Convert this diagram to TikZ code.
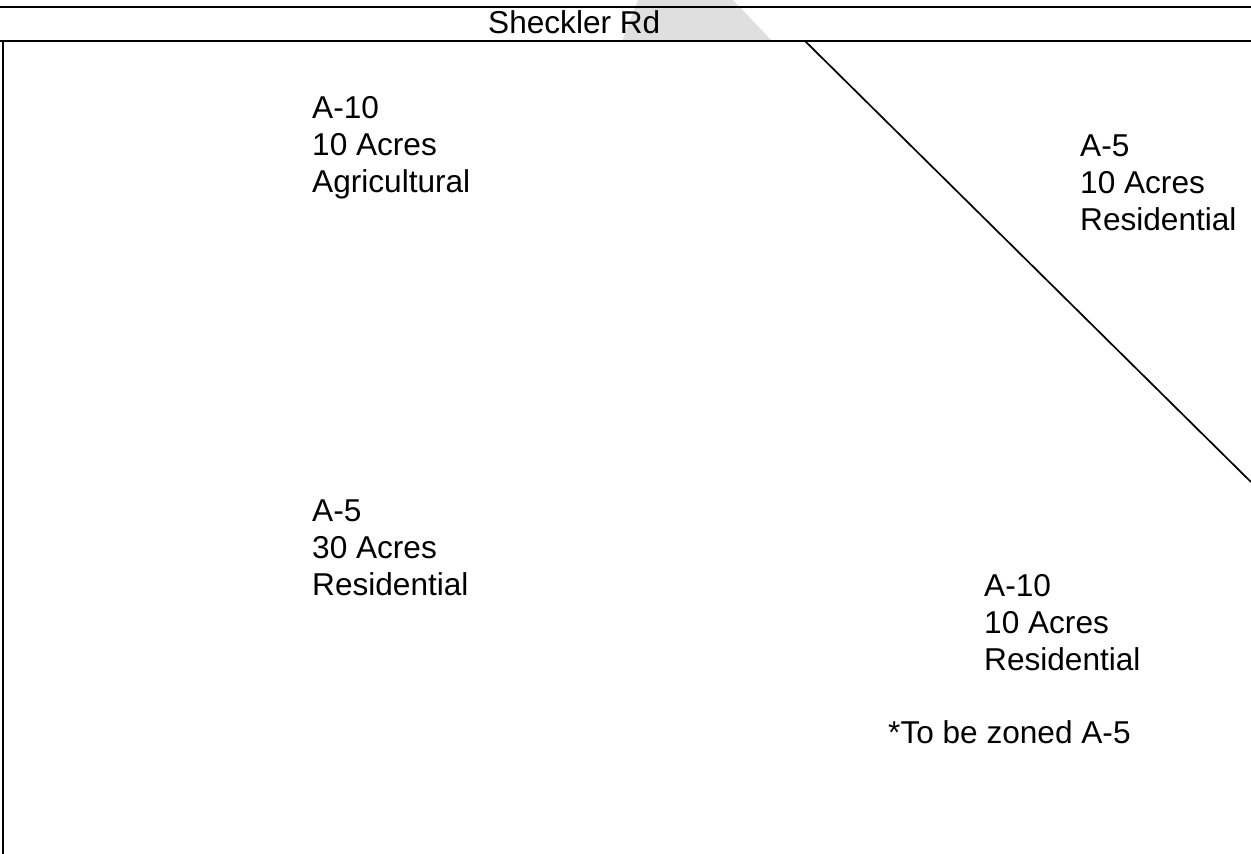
\documentclass[tikz,border=0pt]{standalone}
\usepackage{fontspec}
\setmainfont{Liberation Sans}
\usepackage{tikz}
\usetikzlibrary{positioning,calc}

\begin{document}
\begin{tikzpicture}[x=1pt, y=-1pt,
 road/.style={line width=2pt},
 bnd/.style={line width=1.7pt},
 zone/.style={font=\fontsize{31.6}{36.8}\selectfont, align=left, inner sep=0pt, anchor=base west}]
\useasboundingbox (0,0) rectangle (1251,854);
% filigrane gris
\fill[gray!25] (638,0) -- (733,0) -- (772,41) -- (622,41) -- cycle;
% route
\coordinate (rw) at (0,7);
\coordinate (re) at (1251,7);
\coordinate (sw) at (0,41);
\coordinate (se) at (1251,41);
\draw[road] (rw) -- (re);
\draw[road] (sw) -- (se);
\node[zone] (rd) at (488,33) {Sheckler Rd};
% limites des parcelles
\coordinate (lt) at (3,41);
\coordinate (lb) at (3,854);
\coordinate (dt) at (805,41);
\coordinate (db) at (1251,482);
\draw[bnd, line width=2.4pt] (lt) -- (lb);
\draw[bnd] (dt) -- (db);
% zonage (ancre sur la derniere ligne)
\node[zone] (nw) at (312,192) {A-10\\10 Acres\\Agricultural};
\node[zone] (ne) at (1080,230) {A-5\\10 Acres\\Residential};
\node[zone] (sw5) at (312,595) {A-5\\30 Acres\\Residential};
\node[zone] (se10) at (984,670) {A-10\\10 Acres\\Residential};
\node[zone] (note) at (888,743) {*To be zoned A-5};
\end{tikzpicture}
\end{document}
